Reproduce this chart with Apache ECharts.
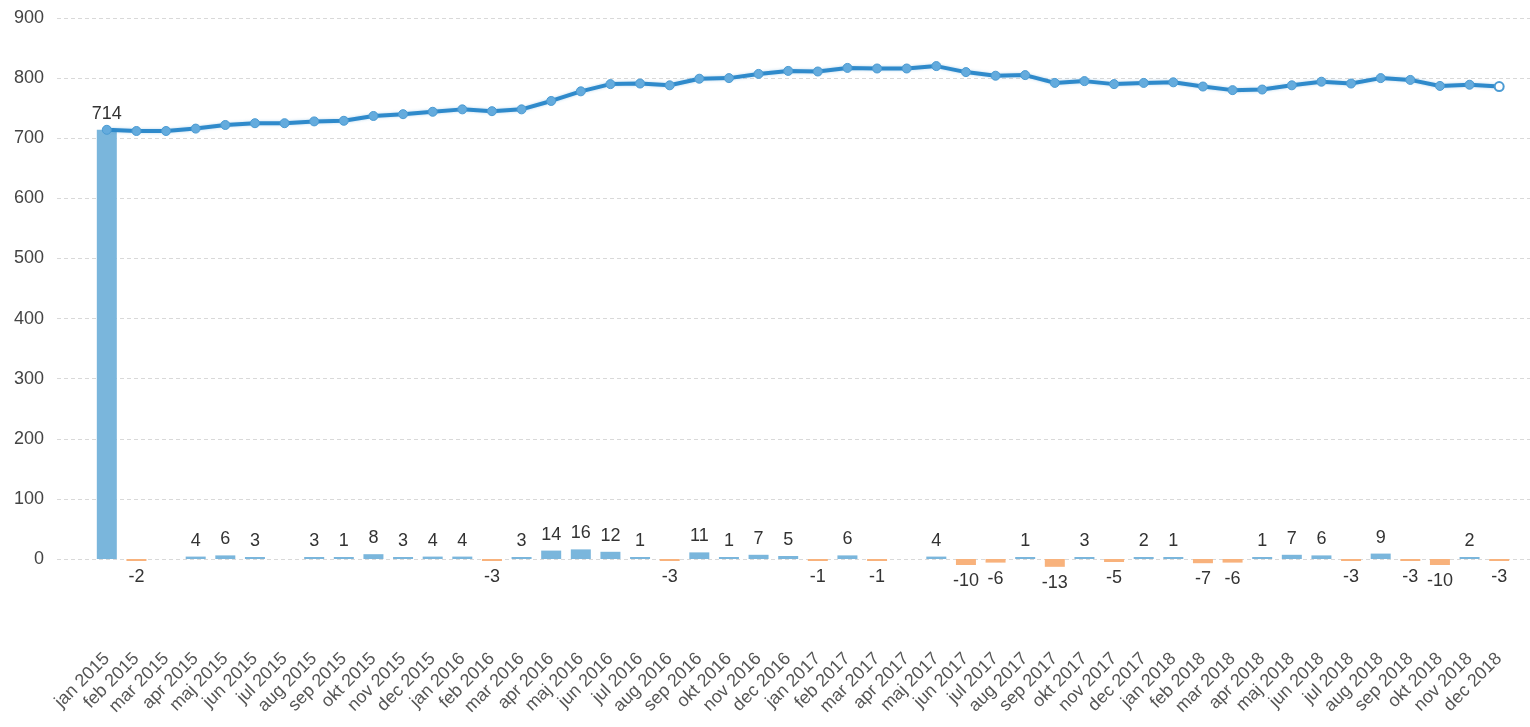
<!DOCTYPE html>
<html>
<head>
<meta charset="utf-8">
<script src="https://cdn.jsdelivr.net/npm/echarts@6/dist/echarts.min.js"></script>
<style>
html,body{margin:0;padding:0;background:#fff;}
#chart{width:1530px;height:727px;}
</style>
</head>
<body>
<div id="chart"></div>
<script>
const categories = [
  'jan 2015','feb 2015','mar 2015','apr 2015','maj 2015','jun 2015','jul 2015','aug 2015','sep 2015','okt 2015','nov 2015','dec 2015',
  'jan 2016','feb 2016','mar 2016','apr 2016','maj 2016','jun 2016','jul 2016','aug 2016','sep 2016','okt 2016','nov 2016','dec 2016',
  'jan 2017','feb 2017','mar 2017','apr 2017','maj 2017','jun 2017','jul 2017','aug 2017','sep 2017','okt 2017','nov 2017','dec 2017',
  'jan 2018','feb 2018','mar 2018','apr 2018','maj 2018','jun 2018','jul 2018','aug 2018','sep 2018','okt 2018','nov 2018','dec 2018'
];
const changes = [
  714, -2, 0, 4, 6, 3, 0, 3, 1, 8, 3, 4,
  4, -3, 3, 14, 16, 12, 1, -3, 11, 1, 7, 5,
  -1, 6, -1, 0, 4, -10, -6, 1, -13, 3, -5, 2,
  1, -7, -6, 1, 7, 6, -3, 9, -3, -10, 2, -3
];
const totals = [
  714, 712, 712, 716, 722, 725, 725, 728, 729, 737, 740, 744,
  748, 745, 748, 762, 778, 790, 791, 788, 799, 800, 807, 812,
  811, 817, 816, 816, 820, 810, 804, 805, 792, 795, 790, 792,
  793, 786, 780, 781, 788, 794, 791, 800, 797, 787, 789, 786
];
const yTicks = [0, 100, 200, 300, 400, 500, 600, 700, 800, 900];

const FONT = 'Liberation Sans, Arial, sans-serif';
const POS = '#7ab6dc', NEG = '#f8b27c';

const barData = changes.map((v, i) => {
  const o = { value: v, itemStyle: { color: v < 0 ? NEG : POS } };
  if (v === 0) { o.itemStyle.opacity = 0; o.label = { show: false }; }
  else if (v < 0) { o.label = { position: 'bottom' }; }
  return o;
});
const lineData = totals.map((v, i) => {
  if (i === totals.length - 1) return { value: v, itemStyle: { color: '#ffffff', borderColor: '#4b9bd3', borderWidth: 2 } };
  return v;
});

const chart = echarts.init(document.getElementById('chart'), null, { renderer: 'canvas' });
chart.setOption({
  animation: false,
  backgroundColor: '#ffffff',
  textStyle: { fontFamily: FONT },
  grid: [
    { left: 57, right: 0, top: 18, bottom: 168, containLabel: false },
    { left: 92, right: 16, top: 18, bottom: 168, containLabel: false }
  ],
  xAxis: [
    { gridIndex: 0, type: 'value', show: false, min: 0, max: 1 },
    {
      gridIndex: 1, type: 'category', data: categories, boundaryGap: true,
      axisLine: { show: false }, axisTick: { show: false },
      axisLabel: { rotate: 45, margin: 97, interval: 0, fontSize: 18, color: '#555', fontFamily: FONT }
    }
  ],
  yAxis: [
    {
      gridIndex: 0, type: 'value', min: 0, max: 900, interval: 100,
      axisLine: { show: false }, axisTick: { show: false },
      axisLabel: { margin: 13, fontSize: 18, color: '#444', fontFamily: FONT },
      splitLine: { show: true, lineStyle: { type: [4, 3], color: '#d9d9d9', width: 1 } }
    },
    {
      gridIndex: 1, type: 'value', min: 0, max: 900, interval: 100, show: false,
      splitLine: { show: false }
    }
  ],
  series: [
    {
      type: 'bar', xAxisIndex: 1, yAxisIndex: 1, data: barData, barWidth: 20, barMinHeight: 2,
      clip: false,
      label: { show: true, position: 'top', distance: 7, fontSize: 18, color: '#333', fontFamily: FONT },
      z: 2
    },
    {
      type: 'line', xAxisIndex: 1, yAxisIndex: 1, data: lineData,
      symbol: 'circle', symbolSize: 9, showAllSymbol: true,
      lineStyle: { color: '#2f8acb', width: 4, shadowColor: 'rgba(47,138,203,0.35)', shadowBlur: 3 },
      itemStyle: { color: '#64abdd', borderColor: '#4b9bd3', borderWidth: 1 },
      z: 3
    }
  ]
});
</script>
</body>
</html>
